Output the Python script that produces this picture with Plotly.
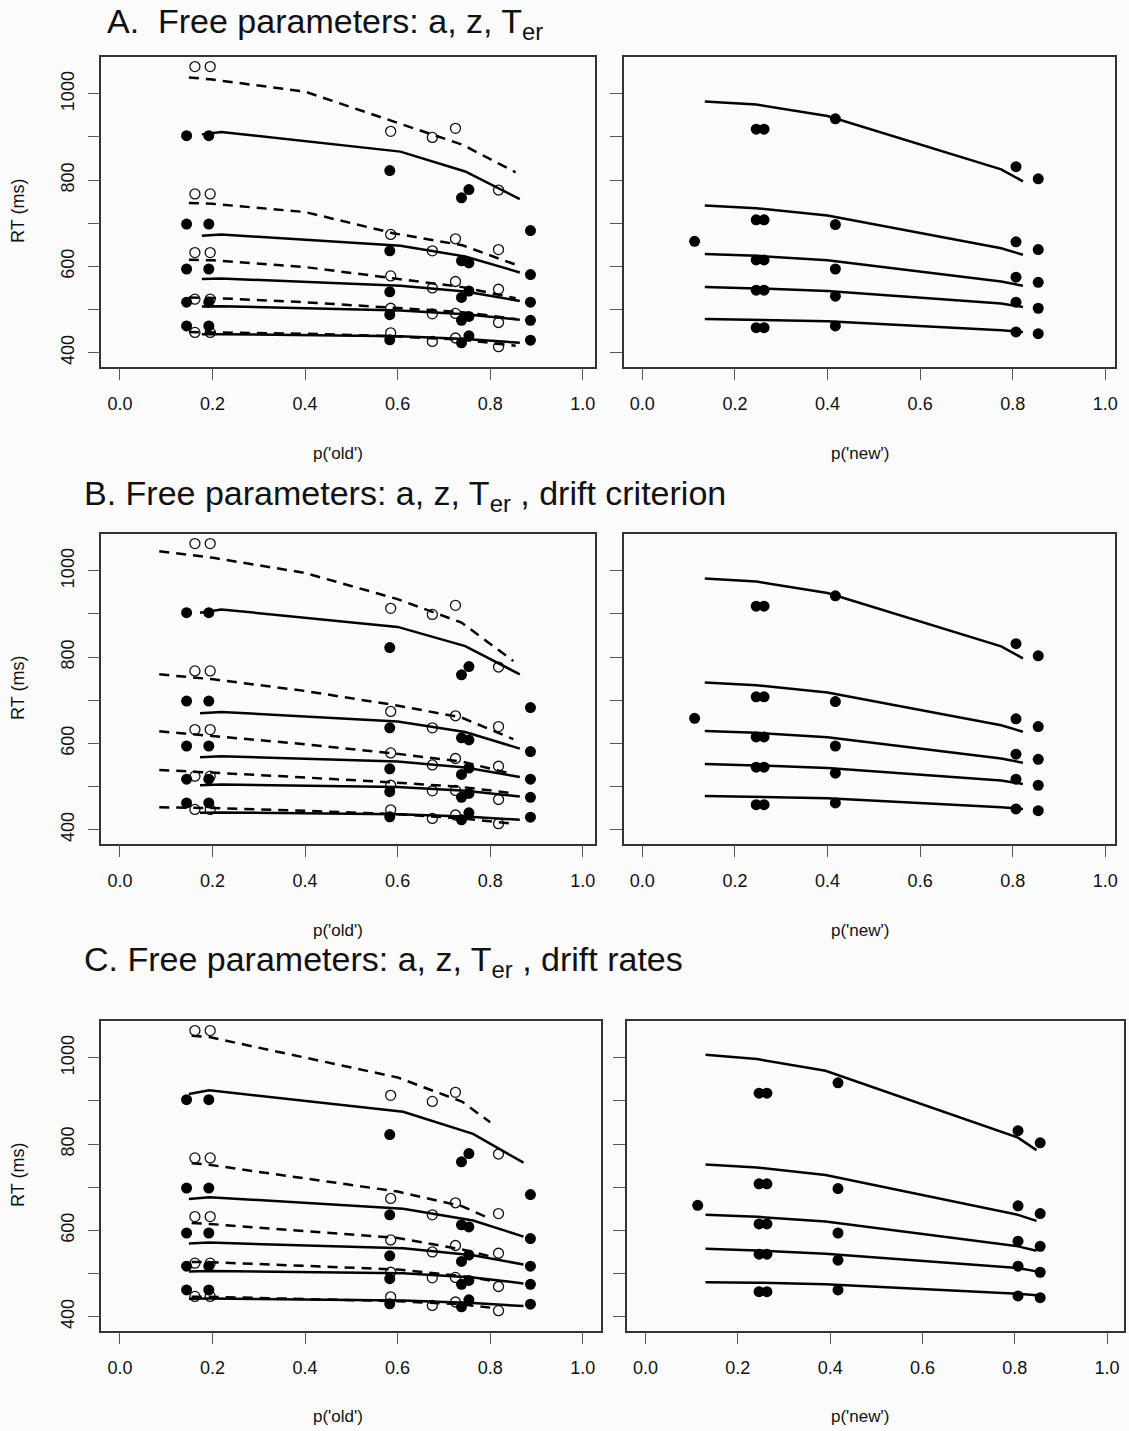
import plotly.graph_objects as go

# ---------------- data ----------------
# Observed RT quantiles (.1,.3,.5,.7,.9) for 'old' responses
hit_x = [0.144, 0.192, 0.583, 0.738, 0.754, 0.887]
hit_rt = [
    [462, 462, 430, 423, 439, 429],
    [517, 517, 488, 475, 484, 475],
    [594, 594, 541, 528, 543, 517],
    [698, 698, 636, 613, 608, 581],
    [903, 903, 822, 759, 778, 683],
]
# Observed RT quantiles for 'old' responses to new items (open circles)
fa_x = [0.162, 0.195, 0.585, 0.675, 0.725, 0.818]
fa_rt = [
    [447, 447, 446, 426, 434, 414],
    [524, 524, 503, 490, 491, 470],
    [632, 632, 578, 550, 565, 547],
    [768, 768, 674, 636, 664, 639],
    [1063, 1063, 913, 899, 920, 777],
]
# Observed RT quantiles for 'new' responses
new_x = [0.246, 0.263, 0.417, 0.807, 0.855]
new_rt = [
    [458, 458, 462, 448, 444],
    [545, 545, 531, 517, 503],
    [615, 615, 594, 575, 563],
    [708, 708, 697, 657, 639],
    [918, 918, 942, 831, 803],
]
new_extra_x = [0.113]
new_extra_rt = [658]

# Model predictions, panel A
a_old_x = [0.177, 0.219, 0.606, 0.746, 0.864]
a_old_rt = [
    [442.5, 443, 438, 432, 423],
    [507, 507.5, 498, 489, 476.5],
    [571, 572, 555, 542, 520],
    [671, 674, 648, 623, 586],
    [906, 911.5, 866, 820, 756],
]
a_fa_x = [0.149, 0.20, 0.40, 0.59, 0.74, 0.855]
a_fa_rt = [
    [448, 447, 444, 438, 430, 416],
    [528, 527, 517, 505, 494, 478],
    [615.5, 614, 598.5, 573, 552, 526],
    [747, 745, 726, 677, 649, 604],
    [1038, 1033, 1005, 936, 882, 818],
]
a_new_x = [0.135, 0.246, 0.40, 0.775, 0.822]
a_new_rt = [
    [478, 476, 473, 452, 448],
    [552, 549, 543, 514, 506],
    [629, 624.6, 614, 565, 555],
    [741, 735, 718, 642, 627],
    [982, 975, 948.5, 825, 797],
]

# Model predictions, panel B
b_old_x = [0.173, 0.219, 0.60, 0.746, 0.864]
b_old_rt = [
    [439, 440, 436, 430.5, 423],
    [503, 504.6, 499, 490, 477],
    [568, 570, 558, 544, 522],
    [670, 673, 651, 626.5, 588],
    [903, 910.5, 870, 825.6, 760],
]
b_fa_x = [0.085, 0.202, 0.40, 0.598, 0.738, 0.85]
b_fa_rt = [
    [452, 450, 443.7, 436, 426, 414],
    [538.6, 532.4, 521, 509, 499, 484.5],
    [628, 617, 598, 576, 558, 528.5],
    [760, 748.5, 721.5, 688, 660, 610],
    [1045.5, 1030, 995, 935, 880, 791],
]
b_new_x = a_new_x
b_new_rt = a_new_rt

# Model predictions, panel C
c_old_x = [0.149, 0.193, 0.612, 0.763, 0.872]
c_old_rt = [
    [441.5, 442, 437.6, 432, 424.5],
    [504.7, 506, 500.8, 491, 477],
    [569.5, 571.7, 558.6, 542.5, 521],
    [672.6, 677, 650, 623, 585.6],
    [916, 924.5, 875, 823.6, 757],
]
c_fa_x = [0.155, 0.193, 0.60, 0.74, 0.80]
c_fa_rt = [
    [446, 446, 436, 428.5, 421],
    [527, 526.4, 509.4, 494, 484],
    [617, 615, 582.5, 555.6, 540],
    [755.8, 752, 690, 655.7, 627],
    [1051, 1048, 954.5, 898, 850.5],
]
c_new_x = [0.13, 0.2415, 0.39, 0.807, 0.847]
c_new_rt = [
    [480, 478.8, 475, 453.4, 449.5],
    [557.4, 553.6, 546, 513, 505],
    [636, 631.5, 620.7, 563, 553],
    [753, 745.6, 728.6, 636, 622],
    [1007, 997, 970, 815, 786],
]

x_ticks = [0.0, 0.2, 0.4, 0.6, 0.8, 1.0]
x_ticktext = ["0.0", "0.2", "0.4", "0.6", "0.8", "1.0"]
y_major_ticks = [400, 600, 800, 1000]
y_major_text = ["400", "600", "800", "1000"]
y_minor_ticks = [500, 700, 900]

titles = [
    "A.\u00a0 Free parameters: a, z, T<sub>er</sub>",
    "B. Free parameters: a, z, T<sub>er</sub> , drift criterion",
    "C. Free parameters: a, z, T<sub>er</sub> , drift rates",
]

# ---------------- figure ----------------
W, H = 1129, 1431
FONT = "Liberation Sans, Arial, Helvetica, sans-serif"
BG = "#fbfbfb"


def fx(p):
    return p / W


def fy(p):
    return 1 - p / H


fig = go.Figure()

# panel geometry in pixels: (left, right, top, bottom, xmin, xmax)
panels = [
    (101.7, 596.7, 56.7, 366.5, -0.040, 1.0267),
    (625.7, 1118.3, 56.7, 366.5, -0.0394, 1.0215),
    (101.7, 596.7, 533.7, 843.5, -0.040, 1.0267),
    (625.7, 1118.3, 533.7, 843.5, -0.0394, 1.0215),
    (101.7, 602.7, 1020.7, 1330.5, -0.040, 1.0397),
    (628.3, 1127.0, 1020.7, 1330.5, -0.0409, 1.0366),
]
YR = [368, 1086]

model_sets = [
    (a_old_x, a_old_rt, a_fa_x, a_fa_rt, a_new_x, a_new_rt),
    (b_old_x, b_old_rt, b_fa_x, b_fa_rt, b_new_x, b_new_rt),
    (c_old_x, c_old_rt, c_fa_x, c_fa_rt, c_new_x, c_new_rt),
]

layout_axes = {}
for i, (l, r, t, b, x0, x1) in enumerate(panels):
    n = i + 1
    xa = "xaxis" if n == 1 else f"xaxis{n}"
    ya = "yaxis" if n == 1 else f"yaxis{n}"
    xr = "x" if n == 1 else f"x{n}"
    yr = "y" if n == 1 else f"y{n}"
    left = (i % 2 == 0)
    layout_axes[xa] = dict(
        domain=[fx(l), fx(r)], range=[x0, x1], anchor=yr,
        showgrid=False, zeroline=False, showline=True, mirror=True,
        linecolor="#333", linewidth=1.5,
        ticks="outside", ticklen=12, tickwidth=1.2, tickcolor="#555",
        tickvals=x_ticks, ticktext=x_ticktext,
        tickfont=dict(family=FONT, size=18, color="#111"),
        ticklabelstandoff=8,
    )
    yax = dict(
        domain=[fy(b), fy(t)], range=YR, anchor=xr,
        showgrid=False, zeroline=False, showline=True, mirror=True,
        linecolor="#333", linewidth=1.5,
        ticks="outside", ticklen=12, tickwidth=1.2, tickcolor="#555",
        tickvals=y_major_ticks,
        showticklabels=left, tickangle=-90,
        tickfont=dict(family=FONT, size=18, color="#111"),
        ticklabelstandoff=6,
        minor=dict(tickvals=y_minor_ticks, ticks="outside", ticklen=12,
                   tickwidth=1.2, tickcolor="#555", showgrid=False),
    )
    if left:
        yax["ticktext"] = y_major_text
    layout_axes[ya] = yax

    row = i // 2
    old_x, old_rt, fax, fart, nx, nrt = model_sets[row]
    if left:
        # observed points
        for q in range(5):
            fig.add_trace(go.Scatter(
                x=fa_x, y=fa_rt[q], mode="markers", xaxis=xr, yaxis=yr,
                marker=dict(symbol="circle-open", size=10, color="#111",
                            line=dict(width=1.3, color="#111")),
                showlegend=False, hoverinfo="skip"))
            fig.add_trace(go.Scatter(
                x=hit_x, y=hit_rt[q], mode="markers", xaxis=xr, yaxis=yr,
                marker=dict(symbol="circle", size=11, color="#000"),
                showlegend=False, hoverinfo="skip"))
        for q in range(5):
            fig.add_trace(go.Scatter(
                x=old_x, y=old_rt[q], mode="lines", xaxis=xr, yaxis=yr,
                line=dict(color="#000", width=2.5),
                showlegend=False, hoverinfo="skip"))
            fig.add_trace(go.Scatter(
                x=fax, y=fart[q], mode="lines", xaxis=xr, yaxis=yr,
                line=dict(color="#000", width=2.5, dash="10px,7px"),
                showlegend=False, hoverinfo="skip"))
    else:
        fig.add_trace(go.Scatter(
            x=new_extra_x, y=new_extra_rt, mode="markers", xaxis=xr, yaxis=yr,
            marker=dict(symbol="circle", size=11, color="#000"),
            showlegend=False, hoverinfo="skip"))
        for q in range(5):
            fig.add_trace(go.Scatter(
                x=new_x, y=new_rt[q], mode="markers", xaxis=xr, yaxis=yr,
                marker=dict(symbol="circle", size=11, color="#000"),
                showlegend=False, hoverinfo="skip"))
            fig.add_trace(go.Scatter(
                x=nx, y=nrt[q], mode="lines", xaxis=xr, yaxis=yr,
                line=dict(color="#000", width=2.5),
                showlegend=False, hoverinfo="skip"))

annotations = []
title_pos = [(105, 23), (82, 496), (82, 961)]
for k, (tx, ty) in enumerate(title_pos):
    annotations.append(dict(
        text=titles[k], x=fx(tx), y=fy(ty), xref="paper", yref="paper",
        xanchor="left", yanchor="middle", showarrow=False,
        font=dict(family=FONT, size=34, color="#111")))

row_mid = [211, 688, 1175]
xlab_y = [453, 930, 1416]
for k in range(3):
    annotations.append(dict(
        text="RT (ms)", x=fx(18), y=fy(row_mid[k]), xref="paper", yref="paper",
        xanchor="center", yanchor="middle", textangle=-90, showarrow=False,
        font=dict(family=FONT, size=18, color="#111")))
    annotations.append(dict(
        text="p('old')", x=fx(339), y=fy(xlab_y[k]), xref="paper", yref="paper",
        xanchor="center", yanchor="middle", showarrow=False,
        font=dict(family=FONT, size=17, color="#111")))
    annotations.append(dict(
        text="p('new')", x=fx(862), y=fy(xlab_y[k]), xref="paper", yref="paper",
        xanchor="center", yanchor="middle", showarrow=False,
        font=dict(family=FONT, size=17, color="#111")))

fig.update_layout(
    width=W, height=H, margin=dict(l=0, r=0, t=0, b=0),
    paper_bgcolor=BG, plot_bgcolor=BG,
    showlegend=False, annotations=annotations,
    font=dict(family=FONT),
    **layout_axes,
)

fig.write_html("out.html")
